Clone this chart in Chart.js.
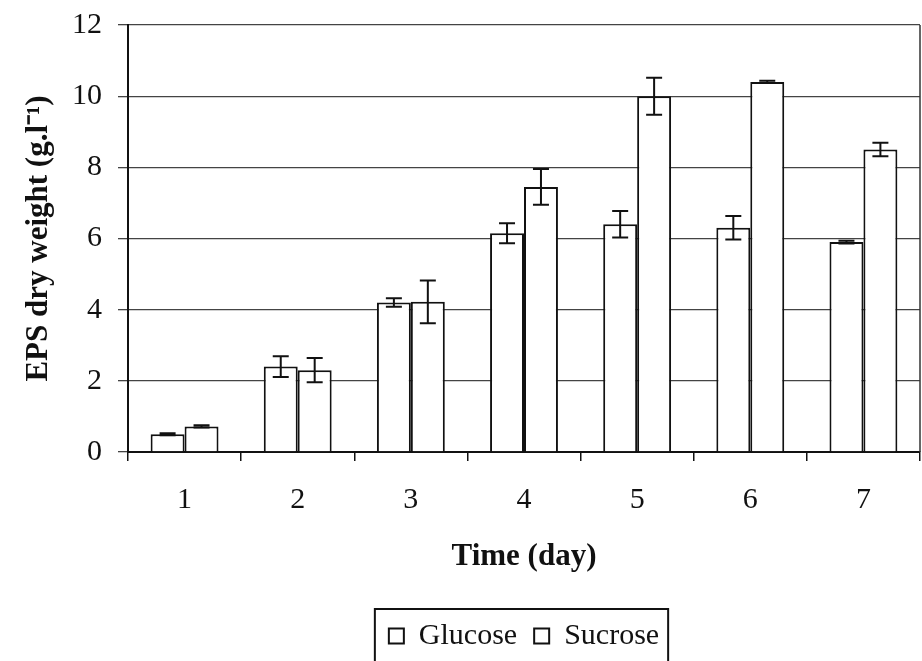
<!DOCTYPE html>
<html>
<head>
<meta charset="utf-8">
<script src="https://cdn.jsdelivr.net/npm/chart.js@4"></script>
<style>
  html, body { margin: 0; padding: 0; background: #fff; overflow: hidden; }
  #wrap { width: 922px; height: 661px; position: relative; }
</style>
</head>
<body>
<div id="wrap"><canvas id="c"></canvas></div>
<script>
// values
const days       = ['1', '2', '3', '4', '5', '6', '7'];
const glucose    = [0.5, 2.4, 4.2, 6.15, 6.4, 6.3, 5.9];
const sucrose    = [0.72, 2.3, 4.22, 7.45, 10.0, 10.4, 8.5];
const glucoseErr = [0.03, 0.29, 0.12, 0.28, 0.37, 0.33, 0.04];
const sucroseErr = [0.03, 0.34, 0.6, 0.5, 0.52, 0.03, 0.19];
const yMin = 0, yMax = 12, yStep = 2;

const serif = 'Liberation Serif, Times New Roman, serif';

// error bars drawn from the y scale
const errorBars = {
  id: 'errorBars',
  afterDatasetsDraw(chart) {
    const ctx = chart.ctx, y = chart.scales.y;
    const errs = [glucoseErr, sucroseErr];
    ctx.save();
    ctx.strokeStyle = '#111';
    ctx.lineWidth = 2;
    chart.data.datasets.forEach((ds, i) => {
      chart.getDatasetMeta(i).data.forEach((bar, j) => {
        const v = ds.data[j], e = errs[i][j];
        const top = y.getPixelForValue(v + e), bot = y.getPixelForValue(v - e);
        ctx.beginPath();
        ctx.moveTo(bar.x, top); ctx.lineTo(bar.x, bot);
        ctx.moveTo(bar.x - 8, top); ctx.lineTo(bar.x + 8, top);
        ctx.moveTo(bar.x - 8, bot); ctx.lineTo(bar.x + 8, bot);
        ctx.stroke();
      });
    });
    ctx.restore();
  }
};

// right edge of the plot frame and the box round the legend
const frames = {
  id: 'frames',
  afterDraw(chart) {
    const ctx = chart.ctx, a = chart.chartArea;
    ctx.save();
    ctx.strokeStyle = '#333';
    ctx.lineWidth = 1.5;
    ctx.beginPath();
    ctx.moveTo(a.right, a.top); ctx.lineTo(a.right, a.bottom);
    ctx.stroke();
    const hb = chart.legend.legendHitBoxes;
    if (hb && hb.length) {
      const l = hb[0].left - 14;
      const r = hb[hb.length - 1].left + hb[hb.length - 1].width + 9;
      const t = hb[0].top - 12;
      ctx.strokeStyle = '#111';
      ctx.lineWidth = 2;
      ctx.strokeRect(l, t, r - l, 80);
    }
    ctx.restore();
  }
};

new Chart(document.getElementById('c'), {
  type: 'bar',
  data: {
    labels: days,
    datasets: [
      { label: 'Glucose', data: glucose, backgroundColor: '#fff', borderColor: '#111', borderWidth: 2,
        barPercentage: 1.0, categoryPercentage: 0.6 },
      { label: 'Sucrose', data: sucrose, backgroundColor: '#fff', borderColor: '#111', borderWidth: 2,
        barPercentage: 1.0, categoryPercentage: 0.6 },
    ],
  },
  options: {
    responsive: true, maintainAspectRatio: false, animation: false,
    layout: { padding: { top: 25, right: 2, left: 0, bottom: 0 } },
    plugins: {
      tooltip: { enabled: false },
      legend: {
        position: 'bottom',
        fullSize: false,
        labels: {
          color: '#111', font: { family: serif, size: 30 },
          boxWidth: 15, boxHeight: 15, padding: 17,
        },
      },
    },
    scales: {
      x: {
        offset: true,
        afterFit: s => { s.height = 152; s.paddingLeft = 0; s.paddingRight = 0; },
        grid: { offset: true, drawOnChartArea: false, drawTicks: true, tickLength: 9, color: '#111', lineWidth: 1.5 },
        border: { color: '#111', width: 2 },
        ticks: { color: '#111', font: { family: serif, size: 30 }, padding: 21 },
        title: { display: true, text: 'Time (day)', color: '#111',
                 font: { family: serif, size: 31, weight: 'bold' }, padding: { top: 0, bottom: 28 } },
      },
      y: {
        min: yMin, max: yMax,
        afterFit: s => { s.width = 128; s.paddingTop = 0; s.paddingBottom = 0; },
        grid: { color: '#444', lineWidth: 1.3, tickLength: 10 },
        border: { color: '#111', width: 2 },
        ticks: { stepSize: yStep, color: '#111', font: { family: serif, size: 30 }, padding: 16 },
        title: { display: true, text: 'EPS dry weight (g.l⁻¹)', color: '#111',
                 font: { family: serif, size: 31, weight: 'bold' }, padding: { top: 20, bottom: 0 } },
      },
    },
  },
  plugins: [errorBars, frames],
});
</script>
</body>
</html>
